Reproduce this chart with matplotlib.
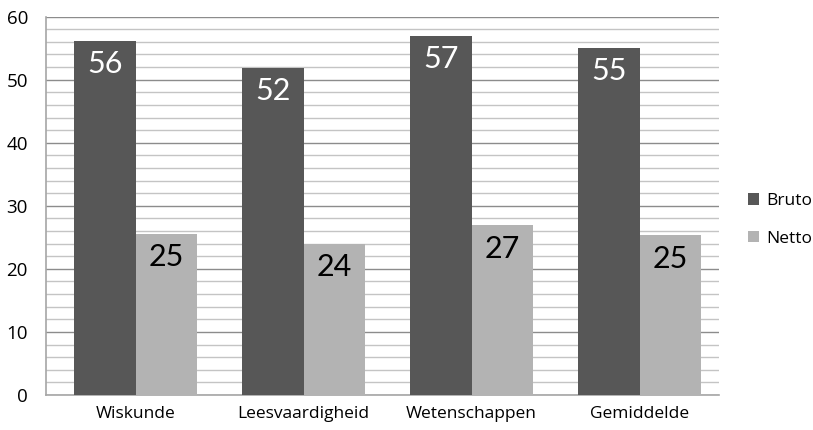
import numpy as np
import matplotlib
matplotlib.use('Agg')
import matplotlib.pyplot as plt
from matplotlib.ticker import MultipleLocator

# data
categories = ['Wiskunde', 'Leesvaardigheid', 'Wetenschappen', 'Gemiddelde']
bruto = [56.2, 51.9, 57.0, 55.1]
netto = [25.6, 24.0, 26.9, 25.4]
bruto_labels = ['56', '52', '57', '55']
netto_labels = ['25', '24', '27', '25']
series_names = ['Bruto', 'Netto']

plt.rcParams['font.family'] = ['Open Sans', 'DejaVu Sans']

fig = plt.figure(figsize=(8.13, 4.30), dpi=100)
ax = fig.add_axes([0.0566, 0.0814, 0.8278, 0.880])

x = np.arange(len(categories))
w = 0.366
b1 = ax.bar(x - w/2, bruto, w, color='#575757', label=series_names[0], zorder=3)
b2 = ax.bar(x + w/2, netto, w, color='#b3b3b3', label=series_names[1], zorder=3)

for rect, lab in zip(b1, bruto_labels):
    ax.annotate(lab, (rect.get_x() + rect.get_width()/2, rect.get_height()),
                xytext=(0, -7), textcoords='offset points', ha='center', va='top',
                fontsize=22, color='white', family=['Lato', 'DejaVu Sans'], zorder=4)
for rect, lab in zip(b2, netto_labels):
    ax.annotate(lab, (rect.get_x() + rect.get_width()/2, rect.get_height()),
                xytext=(0, -7), textcoords='offset points', ha='center', va='top',
                fontsize=22, color='black', family=['Lato', 'DejaVu Sans'], zorder=4)

ax.set_ylim(0, 60)
ax.set_xlim(-0.533, 3.473)
ax.yaxis.set_major_locator(MultipleLocator(10))
ax.yaxis.set_minor_locator(MultipleLocator(2))
ax.grid(which='major', axis='y', color='#8c8c8c', linewidth=1.0, zorder=1)
ax.grid(which='minor', axis='y', color='#c4c4c4', linewidth=1.0, zorder=1)
ax.set_xticks(x)
ax.set_xticklabels(categories, fontsize=12.5)
ax.tick_params(axis='both', which='both', length=0)
ax.tick_params(axis='y', labelsize=13.5, pad=13)
ax.tick_params(axis='x', pad=8)

for s in ['top', 'right']:
    ax.spines[s].set_visible(False)
for s in ['left', 'bottom']:
    ax.spines[s].set_color('#a6a6a6')
    ax.spines[s].set_linewidth(1.2)

ax.legend(loc='center left', bbox_to_anchor=(1.02, 0.463), frameon=False,
          fontsize=12.5, handlelength=0.65, handleheight=0.65, handletextpad=0.4,
          labelspacing=1.25)

fig.savefig('out.png', dpi=100)
